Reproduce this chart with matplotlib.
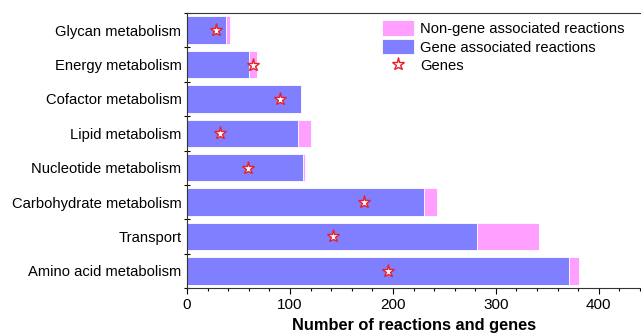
import numpy as np
import matplotlib.pyplot as plt
from matplotlib.ticker import MultipleLocator

plt.rcParams['font.family'] = ['Liberation Sans', 'DejaVu Sans']

# bottom to top
categories = ["Amino acid metabolism", "Transport", "Carbohydrate metabolism",
              "Nucleotide metabolism", "Lipid metabolism", "Cofactor metabolism",
              "Energy metabolism", "Glycan metabolism"]
gene_rxns = [371, 282, 230, 113, 108, 111, 60, 38]
nongene_rxns = [10, 60, 13, 2, 12, 0, 8, 4]
genes = [195, 142, 172, 59, 32, 90, 64, 28]

blue = "#7f7fff"
pink = "#ff9fff"

fig = plt.figure(figsize=(6.41, 3.33), dpi=100)
ax = fig.add_axes([0.2917, 0.135, 0.71, 0.826])

y = np.arange(len(categories))
b1 = ax.barh(y, nongene_rxns, left=gene_rxns, height=0.8, color=pink,
             edgecolor="white", linewidth=0.6, label="Non-gene associated reactions")
b2 = ax.barh(y, gene_rxns, height=0.8, color=blue, edgecolor="white",
             linewidth=0.6, label="Gene associated reactions")
st, = ax.plot(genes, y, linestyle="none", marker="*", markersize=9.5,
              markerfacecolor="white", markeredgecolor="#e8202a",
              markeredgewidth=1.0, label="Genes")

ax.set_xlim(0, 442)
ax.set_ylim(-0.5, 7.5)
ax.set_yticks(y)
ax.set_yticklabels(categories, fontsize=10.6)
ax.yaxis.set_minor_locator(MultipleLocator(1, offset=0.5))
ax.tick_params(axis="y", which="major", length=0, pad=4)
ax.tick_params(axis="y", which="minor", length=4, direction="inout", width=0.8)
ax.set_xticks([0, 100, 200, 300, 400])
ax.xaxis.set_minor_locator(MultipleLocator(20))
ax.tick_params(axis="x", which="major", length=4, width=0.8, labelsize=11)
ax.tick_params(axis="x", which="minor", length=2.5, width=0.8)
ax.set_xlabel("Number of reactions and genes", fontsize=11.8, fontweight="bold",
              labelpad=4)

for s in ["left", "bottom", "top"]:
    ax.spines[s].set_color("#333333")
    ax.spines[s].set_linewidth(0.8)
ax.spines["right"].set_visible(False)

ax.legend([b1, b2, st], [b1.get_label(), b2.get_label(), st.get_label()],
          loc="upper right", frameon=False, fontsize=10.6,
          handlelength=2.2, handleheight=1.25, labelspacing=0.18,
          handletextpad=0.4, bbox_to_anchor=(0.981, 1.005), borderaxespad=0.2)

fig.savefig("out.png", dpi=100)
